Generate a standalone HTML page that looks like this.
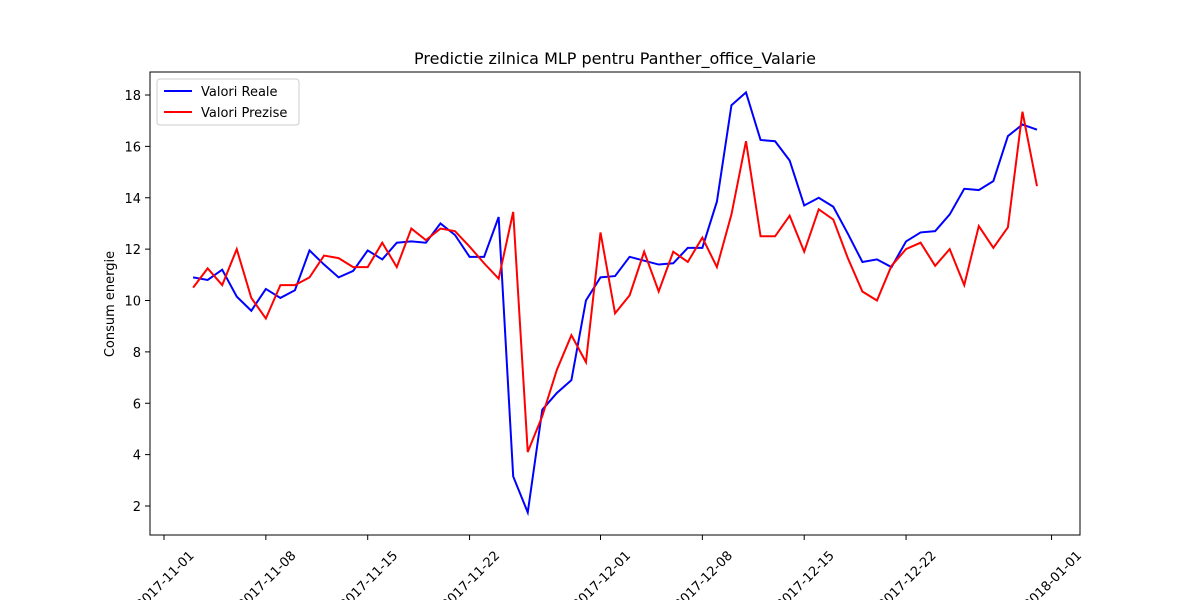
<!DOCTYPE html>
<html><head><meta charset="utf-8"><style>
body{margin:0;background:#fff;}
svg text{font-family:"DejaVu Sans","Liberation Sans",sans-serif;}
</style></head><body>
<svg id="chart" width="1200" height="600" xmlns="http://www.w3.org/2000/svg">
<rect width="1200" height="600" fill="#fff"/>
<text x="615" y="64" font-size="16" text-anchor="middle">Predictie zilnica MLP pentru Panther_office_Valarie</text>
<text transform="translate(114,304) rotate(-90)" font-size="13" text-anchor="middle">Consum energie</text>
<g id="axes"></g>
<g id="series"></g>
<rect x="150" y="72" width="930" height="463" fill="none" stroke="#000" stroke-width="1"/>
<g>
<rect x="157" y="79" width="142" height="46" rx="3" fill="#fff" stroke="#ccc"/>
<line x1="164" y1="91" x2="192" y2="91" stroke="blue" stroke-width="2"/>
<text x="201" y="96" font-size="13">Valori Reale</text>
<line x1="164" y1="112" x2="192" y2="112" stroke="red" stroke-width="2"/>
<text x="201" y="117" font-size="13">Valori Prezise</text>
</g>
</svg>
<script>
const startDate = "2017-11-03";
const realValues = [10.9,10.8,11.2,10.15,9.6,10.45,10.1,10.4,11.95,11.4,10.9,11.15,11.95,11.6,12.25,12.3,12.25,13.0,12.55,11.7,11.7,13.25,3.15,1.75,5.75,6.4,6.9,10.0,10.9,10.95,11.7,11.55,11.4,11.45,12.05,12.05,13.85,17.6,18.1,16.25,16.2,15.45,13.7,14.0,13.65,12.6,11.5,11.6,11.3,12.3,12.65,12.7,13.35,14.35,14.3,14.65,16.4,16.85,16.65];
const predValues = [10.5,11.25,10.6,12.0,10.1,9.3,10.6,10.6,10.9,11.75,11.65,11.3,11.3,12.25,11.3,12.8,12.35,12.8,12.7,12.1,11.45,10.85,13.45,4.1,5.5,7.3,8.65,7.6,12.65,9.5,10.2,11.9,10.35,11.9,11.5,12.45,11.3,13.35,16.2,12.5,12.5,13.3,11.9,13.55,13.15,11.65,10.35,10.0,11.35,12.0,12.25,11.35,12.0,10.6,12.9,12.05,12.85,17.35,14.45];
const yTicks = [2,4,6,8,10,12,14,16,18];
const xTickLabels = ["2017-11-01","2017-11-08","2017-11-15","2017-11-22","2017-12-01","2017-12-08","2017-12-15","2017-12-22","2018-01-01"];

const NS="http://www.w3.org/2000/svg";
const DAY=86400000;
const d0=Date.parse("2017-11-01");
function xs(ms){return 164+(ms-d0)/DAY*14.55;}
function ys(v){return 506-(v-2)*(411/16);}
const axes=document.getElementById('axes');
const series=document.getElementById('series');
yTicks.forEach(t=>{
  const l=document.createElementNS(NS,'line');
  l.setAttribute('x1',145);l.setAttribute('x2',150);l.setAttribute('y1',ys(t));l.setAttribute('y2',ys(t));l.setAttribute('stroke','#000');
  
  
  axes.appendChild(l);
  const tx=document.createElementNS(NS,'text');
  tx.setAttribute('x',141);tx.setAttribute('y',ys(t)+5);tx.setAttribute('font-size','13');tx.setAttribute('text-anchor','end');
  tx.textContent=t;
  
  
  axes.appendChild(tx);
});
xTickLabels.forEach(s=>{
  const x=xs(Date.parse(s));
  const l=document.createElementNS(NS,'line');
  l.setAttribute('x1',x);l.setAttribute('x2',x);l.setAttribute('y1',535);l.setAttribute('y2',540);l.setAttribute('stroke','#000');
  
  
  axes.appendChild(l);
  const tx=document.createElementNS(NS,'text');
  tx.setAttribute('font-size','13');tx.setAttribute('text-anchor','middle');
  tx.setAttribute('transform','translate('+(x+4)+',583) rotate(-45)');
  tx.textContent=s;
  
  
  axes.appendChild(tx);
});
function line(vals,color,name){
  const s0=Date.parse(startDate);
  const pts=vals.map((v,i)=>xs(s0+i*DAY).toFixed(2)+','+ys(v).toFixed(2)).join(' ');
  const p=document.createElementNS(NS,'polyline');
  p.setAttribute('points',pts);p.setAttribute('fill','none');p.setAttribute('stroke',color);p.setAttribute('stroke-width','2');
  
  
  series.appendChild(p);
}
line(realValues,'blue','series-valori-reale');
line(predValues,'red','series-valori-prezise');
</script>
</body></html>
